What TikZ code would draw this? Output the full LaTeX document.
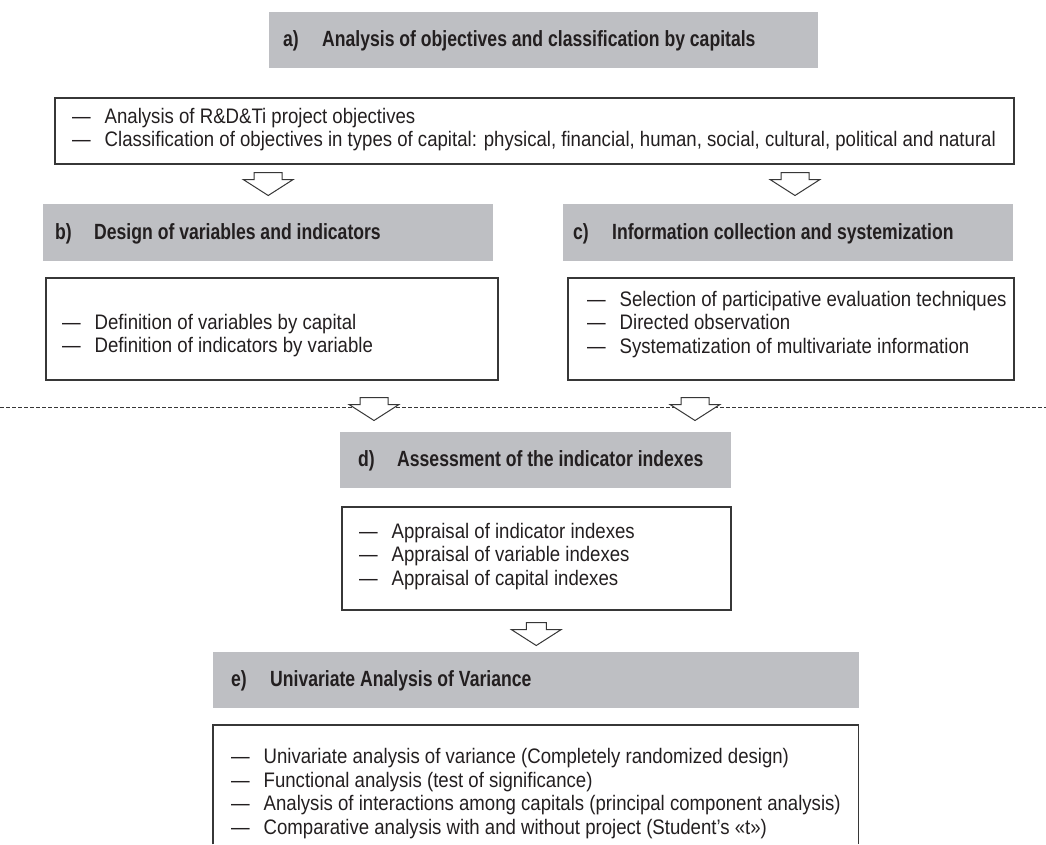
\documentclass[tikz,border=0pt]{standalone}
\usepackage{fontspec}
\setmainfont[FakeStretch=0.886]{Liberation Sans}
\newfontfamily\hdrfont[FakeStretch=0.80]{Liberation Sans}
\usetikzlibrary{calc}
\definecolor{hdrgray}{RGB}{190,191,195}
\definecolor{edgegray}{RGB}{55,55,55}
\definecolor{ink}{RGB}{35,31,32}
\newcommand\dashitem{\makebox[32.5pt][l]{—}}
\newcommand\hlabel[1]{\makebox[39pt][l]{#1}}
\tikzset{
  hdr/.style={fill=hdrgray, draw=none, rectangle, inner sep=0pt, anchor=north west},
  box/.style={draw=edgegray, line width=1.5pt, fill=white, rectangle, inner sep=0pt, anchor=north west},
  openbox/.style={draw=none, rectangle, inner sep=0pt, anchor=north west},
  boxline/.style={draw=edgegray, line width=1.5pt},
  body/.style={font=\fontsize{21}{23.5}\selectfont, text=ink, align=left, inner sep=0pt, anchor=west},
  htext/.style={font=\hdrfont\bfseries\fontsize{22}{26}\selectfont, text=ink, inner sep=0pt, anchor=west},
  blk/.style={draw=edgegray, line width=1pt, fill=white, line join=miter},
  sepline/.style={draw=edgegray, line width=0.9pt, dash pattern=on 4pt off 2pt},
  pics/darr/.style={code={\draw[blk] (-#1,0) -- (#1,0) -- (#1,7) -- (25,7) -- (0,23) -- (-25,7) -- (-#1,7) -- cycle;}}
}
\begin{document}
\begin{tikzpicture}[x=1pt,y=-1pt]
\useasboundingbox (0,0) rectangle (1046,844);

% separator line
\draw[sepline] (0,407) -- (1046,407);

% a)
\node[hdr, minimum width=549pt, minimum height=56pt] (hA) at (269,12) {};
\node[htext] (hAt) at ($(hA.west)+(14,1)$) {\hlabel{a)}Analysis of objectives and classification by capitals};
\node[box, minimum width=959pt, minimum height=66pt] (bA) at (54,97) {};
\node[body] (tA) at ($(bA.north west)+(18,32.5)$) {\dashitem Analysis of R\&D\&Ti project objectives\\
\dashitem Classification of objectives in types of capital: physical, financial, human, social, cultural, political and natural};

% b)
\node[hdr, minimum width=450pt, minimum height=57pt] (hB) at (43,204) {};
\node[htext] (hBt) at ($(hB.west)+(12,1)$) {\hlabel{b)}Design of variables and indicators};
\node[box, minimum width=452pt, minimum height=102pt] (bB) at (45,277) {};
\node[body] (tB) at ($(bB.north west)+(17,58.5)$) {\dashitem Definition of variables by capital\\
\dashitem Definition of indicators by variable};

% c)
\node[hdr, minimum width=450pt, minimum height=57pt] (hC) at (563,204) {};
\node[htext] (hCt) at ($(hC.west)+(10,1)$) {\hlabel{c)}Information collection and systemization};
\node[box, minimum width=446pt, minimum height=102pt] (bC) at (567,277) {};
\node[body] (tC) at ($(bC.north west)+(20,47.5)$) {\dashitem Selection of participative evaluation techniques\\
\dashitem Directed observation\\
\dashitem Systematization of multivariate information};

% d)
\node[hdr, minimum width=391pt, minimum height=56pt] (hD) at (340,432) {};
\node[htext] (hDt) at ($(hD.west)+(18,1)$) {\hlabel{d)}Assessment of the indicator indexes};
\node[box, minimum width=389pt, minimum height=103pt] (bD) at (341,506) {};
\node[body] (tD) at ($(bD.north west)+(18,50.5)$) {\dashitem Appraisal of indicator indexes\\
\dashitem Appraisal of variable indexes\\
\dashitem Appraisal of capital indexes};

% e)
\node[hdr, minimum width=646pt, minimum height=56pt] (hE) at (213,652) {};
\node[htext] (hEt) at ($(hE.west)+(18,1)$) {\hlabel{e)}Univariate Analysis of Variance};
\node[openbox, minimum width=645pt, minimum height=119pt] (bE) at (213,725) {};
\draw[boxline] (bE.south west) -- (bE.north west) -- (bE.north east) -- (bE.south east);
\node[body] (tE) at ($(bE.north west)+(18,68.5)$) {\dashitem Univariate analysis of variance (Completely randomized design)\\
\dashitem Functional analysis (test of significance)\\
\dashitem Analysis of interactions among capitals (principal component analysis)\\
\dashitem Comparative analysis with and without project (Student’s «t»)};

% block arrows
\coordinate (x2) at (795,0);
\coordinate (x3) at (374,0);
\coordinate (x4) at (695,0);
\pic at ($(bA.south -| hB.center)+(0,8)$) {darr=14};
\pic at ($(bA.south -| x2)+(0,8)$) {darr=14};
\pic at ($(bB.south -| x3)+(0,17)$) {darr=14};
\pic at ($(bC.south -| x4)+(0,17)$) {darr=14};
\pic at ($(bD.south)+(0,12)$) {darr=10};
\end{tikzpicture}
\end{document}
